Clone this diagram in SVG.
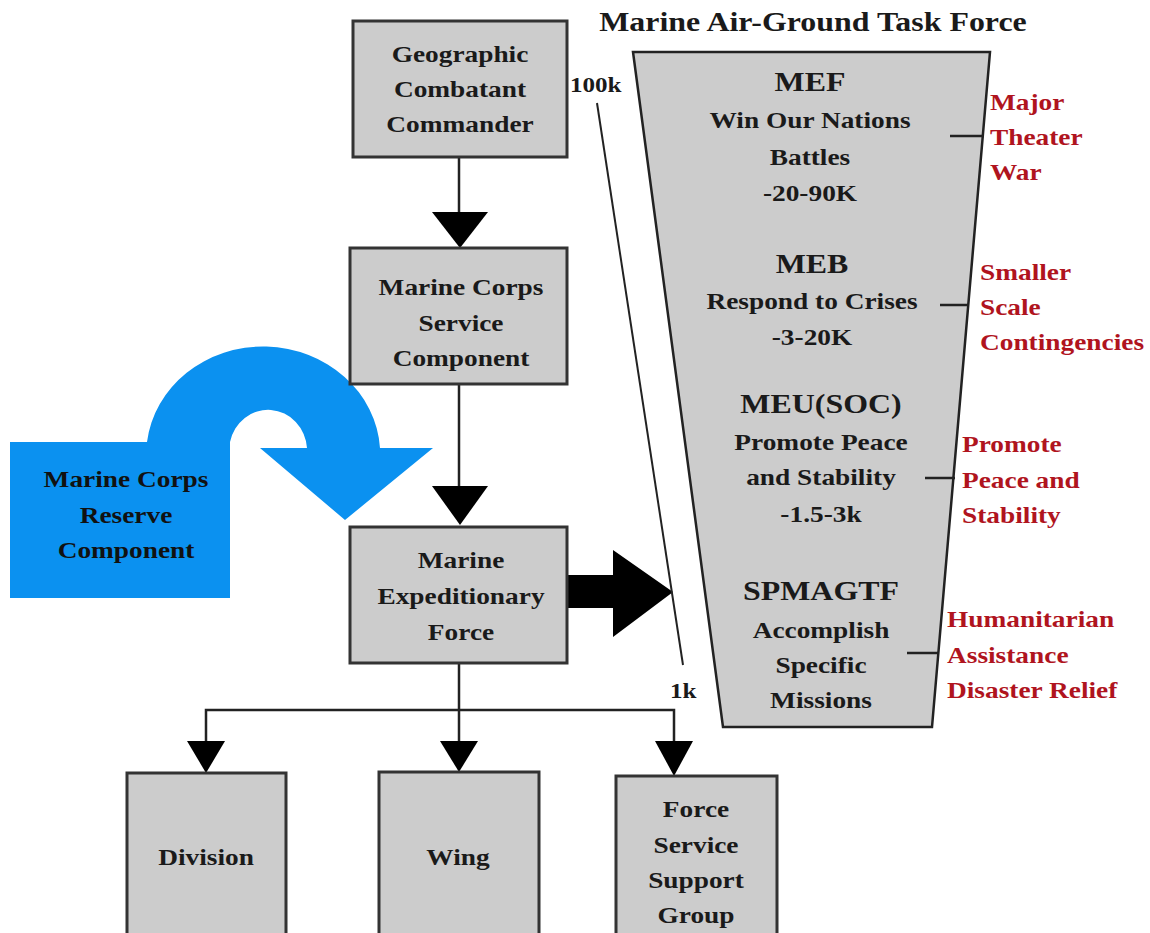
<svg xmlns="http://www.w3.org/2000/svg" width="1150" height="933" viewBox="0 0 1150 933">
<style>
.box{fill:#cccccc;stroke:#333333;stroke-width:3}
.t{font-family:"Liberation Serif","Times New Roman",serif;font-weight:bold;fill:#1a1a1a;text-anchor:middle;font-size:24px}
.ttl{font-size:28px}
.red{font-family:"Liberation Serif","Times New Roman",serif;font-weight:bold;fill:#b0141e;font-size:24px}
.lbl{font-family:"Liberation Serif","Times New Roman",serif;font-weight:bold;fill:#1a1a1a;font-size:22px}
.con{stroke:#222;stroke-width:2.5;fill:none}
.head{fill:#000}
.tick{stroke:#222;stroke-width:2.5}
</style>
<rect width="1150" height="933" fill="#ffffff"/>

<g id="reserve">
<path d="M10,442 L147,442 A117,108 0 0 1 380,448 L433,448 L345,520 L260,448 L307,448 A39,41 0 0 0 230,442 L230,598 L10,598 Z" fill="#0b91f0"/>
<text class="t" transform="translate(126,0) scale(1.14,1)" style="fill:#111"><tspan x="0" y="487">Marine Corps</tspan><tspan x="0" y="523">Reserve</tspan><tspan x="0" y="558">Component</tspan></text>
</g>

<g id="connectors">
<line class="con" x1="459" y1="157" x2="459" y2="213"/>
<polygon class="head" points="432,212 488,212 460,248"/>
<line class="con" x1="459" y1="384" x2="459" y2="487"/>
<polygon class="head" points="432,486 488,486 460,525"/>
<line class="con" x1="459" y1="663" x2="459" y2="742"/>
<polyline class="con" points="206,742 206,710 674,710 674,742"/>
<polygon class="head" points="187,741 225,741 206,773"/>
<polygon class="head" points="440,741 478,741 459,772"/>
<polygon class="head" points="655,741 693,741 674,776"/>
<polygon class="head" points="567,575 613,575 613,550 673,592 613,637 613,608 567,608"/>
<line stroke="#222" stroke-width="2" x1="597" y1="103" x2="683" y2="665"/>
</g>

<g id="gcc">
<rect class="box" x="353" y="21" width="214" height="136"/>
<text class="t" transform="translate(460,0) scale(1.14,1)"><tspan x="0" y="62">Geographic</tspan><tspan x="0" y="97">Combatant</tspan><tspan x="0" y="132">Commander</tspan></text>
</g>

<g id="mcsc">
<rect class="box" x="350" y="248" width="217" height="136"/>
<text class="t" transform="translate(461,0) scale(1.14,1)"><tspan x="0" y="295">Marine Corps</tspan><tspan x="0" y="331">Service</tspan><tspan x="0" y="366">Component</tspan></text>
</g>

<g id="mef">
<rect class="box" x="350" y="527" width="217" height="136"/>
<text class="t" transform="translate(461,0) scale(1.14,1)"><tspan x="0" y="568">Marine</tspan><tspan x="0" y="604">Expeditionary</tspan><tspan x="0" y="640">Force</tspan></text>
</g>

<g id="division">
<rect class="box" x="127" y="773" width="159" height="175"/>
<text class="t" transform="translate(206,0) scale(1.14,1)"><tspan x="0" y="865">Division</tspan></text>
</g>

<g id="wing">
<rect class="box" x="379" y="772" width="160" height="176"/>
<text class="t" transform="translate(458,0) scale(1.14,1)"><tspan x="0" y="865">Wing</tspan></text>
</g>

<g id="fssg">
<rect class="box" x="616" y="776" width="161" height="172"/>
<text class="t" transform="translate(696,0) scale(1.14,1)"><tspan x="0" y="817">Force</tspan><tspan x="0" y="853">Service</tspan><tspan x="0" y="888">Support</tspan><tspan x="0" y="923">Group</tspan></text>
</g>

<g id="magtf">
<text class="t" transform="translate(813,0) scale(1.14,1)" style="font-size:28px"><tspan x="0" y="31">Marine Air-Ground Task Force</tspan></text>
<polygon points="633,52 990,52 932,727 723,727" fill="#cccccc" stroke="#222" stroke-width="2.5" stroke-linejoin="miter"/>
<text class="t" transform="translate(810,0) scale(1.14,1)"><tspan class="ttl" x="0" y="91">MEF</tspan><tspan x="0" y="128">Win Our Nations</tspan><tspan x="0" y="165">Battles</tspan><tspan x="0" y="201">-20-90K</tspan></text>
<text class="t" transform="translate(812,0) scale(1.14,1)"><tspan class="ttl" x="0" y="273">MEB</tspan><tspan x="0" y="309">Respond to Crises</tspan><tspan x="0" y="345">-3-20K</tspan></text>
<text class="t" transform="translate(821,0) scale(1.14,1)"><tspan class="ttl" x="0" y="413">MEU(SOC)</tspan><tspan x="0" y="450">Promote Peace</tspan><tspan x="0" y="485">and Stability</tspan><tspan x="0" y="522">-1.5-3k</tspan></text>
<text class="t" transform="translate(821,0) scale(1.14,1)"><tspan class="ttl" x="0" y="600">SPMAGTF</tspan><tspan x="0" y="638">Accomplish</tspan><tspan x="0" y="673">Specific</tspan><tspan x="0" y="708">Missions</tspan></text>
</g>

<g id="scale-labels">
<text class="lbl" transform="translate(570,0) scale(1.14,1)"><tspan x="0" y="92">100k</tspan></text>
<text class="lbl" transform="translate(670,0) scale(1.14,1)"><tspan x="0" y="698">1k</tspan></text>
</g>

<g id="mission-labels">
<line class="tick" x1="950" y1="136" x2="984" y2="136"/>
<line class="tick" x1="940" y1="305" x2="969" y2="305"/>
<line class="tick" x1="925" y1="478" x2="955" y2="478"/>
<line class="tick" x1="907" y1="653" x2="939" y2="653"/>
<text class="red" transform="translate(990,0) scale(1.14,1)"><tspan x="0" y="110">Major</tspan><tspan x="0" y="145">Theater</tspan><tspan x="0" y="180">War</tspan></text>
<text class="red" transform="translate(980,0) scale(1.14,1)"><tspan x="0" y="280">Smaller</tspan><tspan x="0" y="315">Scale</tspan><tspan x="0" y="350">Contingencies</tspan></text>
<text class="red" transform="translate(962,0) scale(1.14,1)"><tspan x="0" y="452">Promote</tspan><tspan x="0" y="488">Peace and</tspan><tspan x="0" y="523">Stability</tspan></text>
<text class="red" transform="translate(947,0) scale(1.14,1)"><tspan x="0" y="627">Humanitarian</tspan><tspan x="0" y="663">Assistance</tspan><tspan x="0" y="698">Disaster Relief</tspan></text>
</g>
</svg>
